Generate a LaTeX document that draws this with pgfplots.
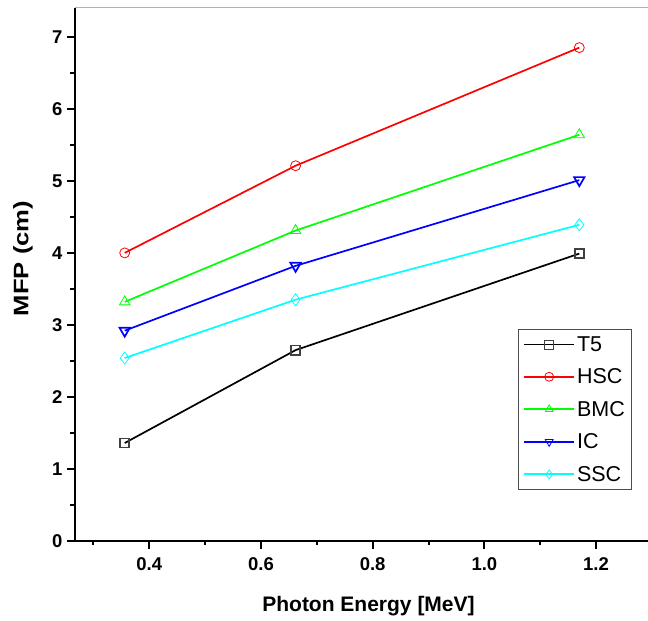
\documentclass[border=0pt]{standalone}
\usepackage{graphicx}
\usepackage{pgfplots}
\pgfplotsset{compat=1.18}
\usepackage{fontspec}
\setmainfont{Liberation Sans}
\definecolor{mycyan}{RGB}{0,255,255}
\definecolor{mygreen}{RGB}{0,255,0}
\definecolor{myblue}{RGB}{0,0,255}
\definecolor{myred}{RGB}{255,0,0}
\begin{document}
\begin{tikzpicture}
\begin{axis}[
  name=ax,
  scale only axis,
  width=573pt, height=533pt,
  xmin=0.267, xmax=1.293, ymin=0, ymax=7.4,
  axis x line*=bottom, axis y line*=left,
  axis line style={line width=2pt, -},
  xtick={0.4,0.6,0.8,1.0,1.2},
  xticklabels={0.4,0.6,0.8,1.0,1.2},
  ytick={0,1,2,3,4,5,6,7},
  minor xtick={0.3,0.5,0.7,0.9,1.1},
  minor ytick={0.5,1.5,2.5,3.5,4.5,5.5,6.5},
  tick align=outside,
  major tick length=8pt, minor tick length=4.5pt,
  every tick/.style={black, line width=2pt},
  /pgf/number format/assume math mode=true,
  tick label style={font=\fontsize{18.5}{22}\selectfont\bfseries},
  xticklabel style={yshift=-5pt},
  yticklabel style={xshift=-1pt},
  xlabel={Photon Energy [MeV]},
  ylabel={\scalebox{1.22}[1]{MFP (cm)}},
  label style={font=\fontsize{21}{24}\selectfont\bfseries},
  xlabel style={at={(rel axis cs:0.5,0)}, anchor=center, yshift=-65pt, xshift=7pt},
  ylabel style={at={(rel axis cs:0,0.5)}, anchor=center, yshift=52pt, xshift=16pt},
  legend style={at={(0.773,0.398)}, anchor=north west, draw=black!70, line width=0.8pt,
    font=\fontsize{21.5}{25}\selectfont, row sep=12pt, inner ysep=5pt, inner xsep=5pt,
    /tikz/every even column/.append style={column sep=5pt}},
  legend cell align=left,
  legend image code/.code={\draw[#1, line width=1.7pt] (0pt,0pt) -- (50pt,0pt);
    \draw[#1, mark size=4.5pt, line width=0.8pt, mark repeat=1] plot coordinates {(25pt,0pt)};},
  mark options={line width=0.8pt, solid, fill=white},
  clip=false,
]
\addplot[black, line width=1.7pt, mark=square, mark size=4.6pt, mark options={draw=black!75}] coordinates {(0.356,1.36) (0.662,2.65) (1.17,3.99)};
\addlegendentry{T5}
\addplot[myred, line width=1.7pt, mark=o, mark size=5pt] coordinates {(0.356,4.0) (0.662,5.21) (1.17,6.85)};
\addlegendentry{HSC}
\addplot[mygreen, line width=1.7pt, mark=triangle, mark size=6pt] coordinates {(0.356,3.32) (0.662,4.31) (1.17,5.64)};
\addlegendentry{BMC}
\addplot[myblue, line width=1.7pt, mark=triangle, mark size=6pt, mark options={rotate=180}] coordinates {(0.356,2.92) (0.662,3.82) (1.17,5.01)};
\addlegendentry{IC}
\addplot[mycyan, line width=1.7pt, mark=diamond, mark size=6pt] coordinates {(0.356,2.54) (0.662,3.35) (1.17,4.39)};
\addlegendentry{SSC}
\draw[black!30, line width=1pt] (rel axis cs:0,1) -- (rel axis cs:1,1);
\end{axis}
\pgfresetboundingbox
\path[use as bounding box] ([shift={(-75pt,-80pt)}]ax.south west) rectangle ([shift={(0pt,8pt)}]ax.north east);
\end{tikzpicture}
\end{document}
